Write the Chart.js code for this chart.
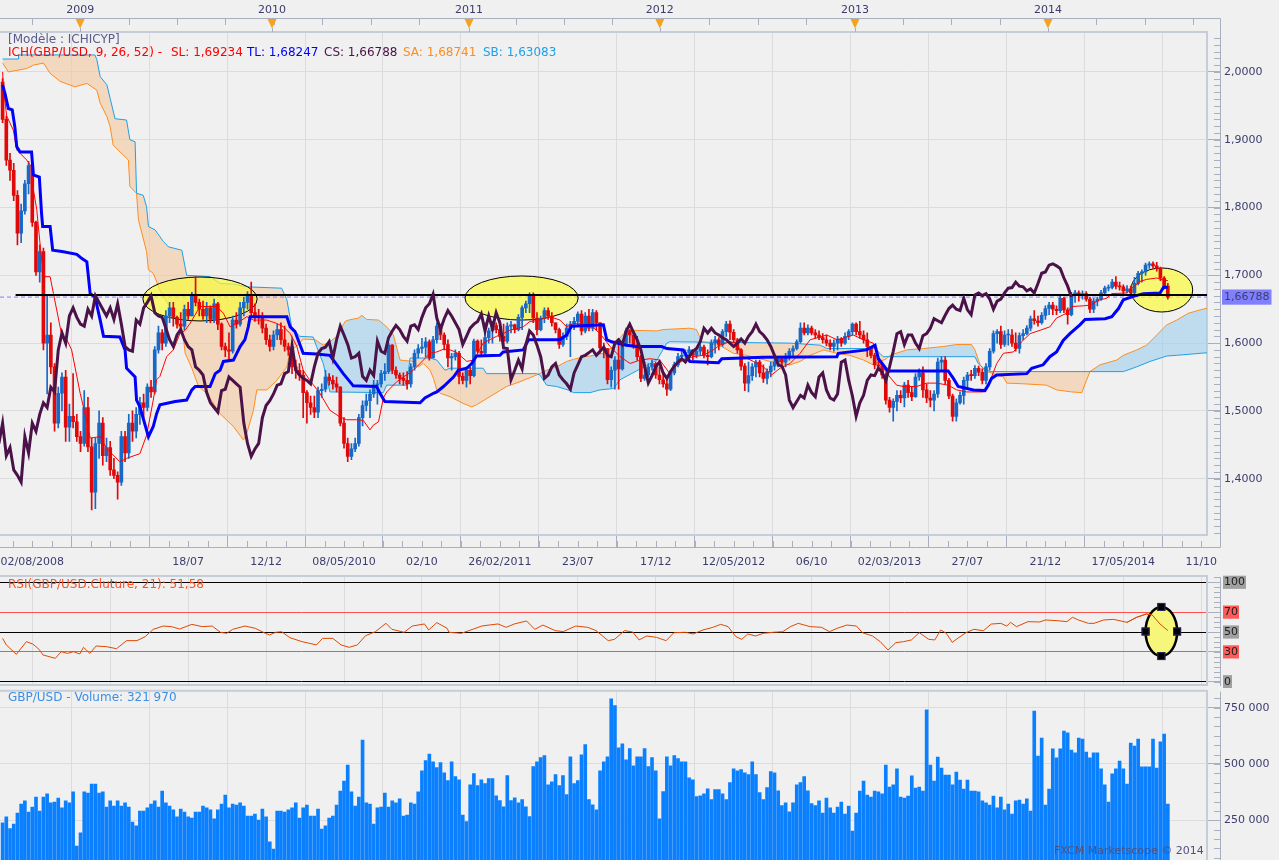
<!DOCTYPE html>
<html>
<head>
<meta charset="utf-8">
<title>GBP/USD - ICHICYP</title>
<script src="https://cdn.jsdelivr.net/npm/chart.js@4.4.1/dist/chart.umd.min.js"></script>
<style>
  html, body { margin: 0; padding: 0; background: #f0f0f0; }
  #wrap { position: relative; width: 1279px; height: 860px; overflow: hidden; background: #f0f0f0;
          font-family: 'DejaVu Sans', sans-serif; font-size: 12px; }
  canvas { position: absolute; left: 0; }
  #main { top: 0; }
  #rsi { top: 572px; }
  #vol { top: 688px; }
  .lbl { position: absolute; white-space: nowrap; line-height: 14px; }
</style>
</head>
<body>
<div id="wrap">
  <canvas id="main" width="1279" height="572" style="width:1279px;height:572px"></canvas>
  <canvas id="rsi" width="1279" height="116" style="width:1279px;height:116px"></canvas>
  <canvas id="vol" width="1279" height="190" style="width:1279px;height:190px"></canvas>

  <div class="lbl" style="left:8px;top:32px;color:#5a5a8c">[Modèle : ICHICYP]</div>
  <div class="lbl" style="left:8px;top:45px;color:#ff0000">ICH(GBP/USD, 9, 26, 52) -</div>
  <div class="lbl" style="left:171px;top:45px;color:#ff0000">SL: 1,69234</div>
  <div class="lbl" style="left:247px;top:45px;color:#0000ff">TL: 1,68247</div>
  <div class="lbl" style="left:324px;top:45px;color:#4a1248">CS: 1,66788</div>
  <div class="lbl" style="left:403px;top:45px;color:#ff8c1e">SA: 1,68741</div>
  <div class="lbl" style="left:483px;top:45px;color:#1ea0e6">SB: 1,63083</div>
  <div class="lbl" style="left:8px;top:577px;color:#ff5020">RSI(GBP/USD.Cluture, 21): 51,58</div>
  <div class="lbl" style="left:8px;top:690px;color:#3d8ee6">GBP/USD - Volume: 321 970</div>
  <div class="lbl" style="left:1054px;top:844px;font-size:11px;color:#50507e">FXCM Marketscope © 2014</div>
</div>

<script>
// weekly bars, index 0 = 02/08/2008
const firstOpen = 1.985;
const closes = [
  1.930, 1.870, 1.855, 1.818, 1.762, 1.795, 1.835, 1.862, 1.778, 1.705,
  1.735, 1.600, 1.612, 1.565, 1.482, 1.526, 1.550, 1.476, 1.492, 1.484,
  1.462, 1.452, 1.505, 1.447, 1.380, 1.452, 1.482, 1.434, 1.446, 1.413,
  1.405, 1.395, 1.462, 1.438, 1.482, 1.470, 1.495, 1.512, 1.505, 1.535,
  1.528, 1.590, 1.615, 1.600, 1.640, 1.652, 1.638, 1.628, 1.625, 1.650,
  1.640, 1.670, 1.660, 1.650, 1.640, 1.652, 1.635, 1.658, 1.628, 1.595,
  1.590, 1.588, 1.634, 1.628, 1.652, 1.660, 1.670, 1.645, 1.640, 1.638,
  1.622, 1.605, 1.595, 1.612, 1.620, 1.605, 1.595, 1.590, 1.565, 1.560,
  1.553, 1.527, 1.512, 1.505, 1.498, 1.530, 1.532, 1.550, 1.545, 1.540,
  1.535, 1.482, 1.452, 1.433, 1.444, 1.452, 1.490, 1.508, 1.515, 1.525,
  1.538, 1.540, 1.555, 1.558, 1.597, 1.560, 1.553, 1.548, 1.545, 1.540,
  1.565, 1.585, 1.592, 1.594, 1.602, 1.578, 1.605, 1.625, 1.612, 1.598,
  1.578, 1.580, 1.585, 1.551, 1.545, 1.560, 1.552, 1.603, 1.588, 1.585,
  1.608, 1.618, 1.626, 1.620, 1.610, 1.603, 1.625, 1.627, 1.620, 1.638,
  1.652, 1.658, 1.672, 1.637, 1.620, 1.636, 1.648, 1.640, 1.630, 1.620,
  1.598, 1.610, 1.622, 1.628, 1.632, 1.643, 1.618, 1.640, 1.622, 1.645,
  1.630, 1.593, 1.592, 1.546, 1.560, 1.575, 1.562, 1.598, 1.618, 1.612,
  1.597, 1.580, 1.548, 1.553, 1.565, 1.570, 1.553, 1.546, 1.540, 1.532,
  1.556, 1.568, 1.580, 1.582, 1.586, 1.590, 1.582, 1.588, 1.594, 1.582,
  1.580, 1.600, 1.605, 1.598, 1.617, 1.628, 1.616, 1.605, 1.590, 1.566,
  1.541, 1.552, 1.565, 1.572, 1.556, 1.548, 1.558, 1.566, 1.572, 1.577,
  1.572, 1.580, 1.588, 1.592, 1.602, 1.622, 1.615, 1.622, 1.615, 1.612,
  1.608, 1.605, 1.600, 1.595, 1.600, 1.606, 1.600, 1.610, 1.617, 1.628,
  1.617, 1.612, 1.605, 1.595, 1.582, 1.568, 1.566, 1.553, 1.516, 1.505,
  1.514, 1.523, 1.519, 1.538, 1.527, 1.521, 1.550, 1.556, 1.531, 1.519,
  1.516, 1.525, 1.572, 1.575, 1.545, 1.522, 1.492, 1.512, 1.523, 1.545,
  1.553, 1.552, 1.563, 1.557, 1.545, 1.565, 1.588, 1.614, 1.617, 1.598,
  1.612, 1.612, 1.600, 1.592, 1.611, 1.614, 1.622, 1.636, 1.633, 1.630,
  1.641, 1.651, 1.656, 1.650, 1.648, 1.666, 1.649, 1.642, 1.671, 1.674,
  1.670, 1.673, 1.665, 1.650, 1.662, 1.665, 1.674, 1.681, 1.682, 1.690,
  1.684, 1.683, 1.677, 1.680, 1.674, 1.688, 1.703, 1.705, 1.715, 1.717,
  1.714, 1.710, 1.696, 1.684, 1.66788
];
const highs = [
  1.990, 1.935, 1.880, 1.865, 1.825, 1.805, 1.840, 1.868, 1.865, 1.780,
  1.745, 1.740, 1.672, 1.630, 1.570, 1.535, 1.556, 1.560, 1.510, 1.555,
  1.495, 1.470, 1.530, 1.520, 1.460, 1.460, 1.500, 1.490, 1.460, 1.455,
  1.430, 1.410, 1.470, 1.470, 1.495, 1.500, 1.505, 1.520, 1.525, 1.540,
  1.545, 1.595, 1.625, 1.620, 1.648, 1.660, 1.660, 1.640, 1.645, 1.656,
  1.660, 1.675, 1.698, 1.665, 1.662, 1.660, 1.655, 1.665, 1.660, 1.630,
  1.600, 1.615, 1.640, 1.645, 1.660, 1.668, 1.676, 1.690, 1.658, 1.650,
  1.645, 1.628, 1.612, 1.618, 1.628, 1.630, 1.625, 1.600, 1.595, 1.575,
  1.570, 1.560, 1.530, 1.522, 1.522, 1.535, 1.540, 1.560, 1.555, 1.552,
  1.550, 1.536, 1.490, 1.460, 1.452, 1.460, 1.495, 1.515, 1.525, 1.531,
  1.545, 1.545, 1.560, 1.570, 1.600, 1.598, 1.565, 1.556, 1.556, 1.558,
  1.570, 1.590, 1.598, 1.607, 1.608, 1.605, 1.610, 1.630, 1.628, 1.615,
  1.605, 1.585, 1.590, 1.588, 1.556, 1.565, 1.565, 1.606, 1.605, 1.605,
  1.630, 1.622, 1.632, 1.630, 1.633, 1.628, 1.630, 1.632, 1.628, 1.642,
  1.655, 1.662, 1.674, 1.674, 1.645, 1.640, 1.652, 1.652, 1.645, 1.630,
  1.622, 1.615, 1.628, 1.632, 1.638, 1.646, 1.648, 1.645, 1.650, 1.650,
  1.648, 1.630, 1.600, 1.592, 1.565, 1.580, 1.606, 1.602, 1.622, 1.620,
  1.617, 1.610, 1.582, 1.572, 1.570, 1.575, 1.572, 1.565, 1.558, 1.545,
  1.560, 1.572, 1.585, 1.588, 1.590, 1.595, 1.590, 1.592, 1.598, 1.597,
  1.590, 1.605, 1.610, 1.608, 1.620, 1.632, 1.633, 1.620, 1.607, 1.592,
  1.570, 1.572, 1.570, 1.575, 1.575, 1.568, 1.562, 1.572, 1.576, 1.580,
  1.580, 1.585, 1.592, 1.596, 1.605, 1.630, 1.630, 1.627, 1.625, 1.620,
  1.618, 1.614, 1.612, 1.605, 1.605, 1.610, 1.608, 1.615, 1.620, 1.630,
  1.630, 1.632, 1.618, 1.615, 1.595, 1.585, 1.580, 1.572, 1.556, 1.520,
  1.518, 1.530, 1.530, 1.542, 1.545, 1.535, 1.555, 1.562, 1.565, 1.540,
  1.530, 1.530, 1.578, 1.580, 1.580, 1.548, 1.525, 1.518, 1.528, 1.550,
  1.557, 1.560, 1.567, 1.566, 1.562, 1.570, 1.592, 1.618, 1.620, 1.625,
  1.618, 1.620, 1.620, 1.615, 1.615, 1.620, 1.626, 1.640, 1.648, 1.640,
  1.645, 1.655, 1.660, 1.660, 1.655, 1.670, 1.668, 1.652, 1.675, 1.678,
  1.677, 1.677, 1.676, 1.668, 1.666, 1.668, 1.678, 1.684, 1.686, 1.694,
  1.698, 1.690, 1.686, 1.685, 1.684, 1.697, 1.706, 1.708, 1.718, 1.720,
  1.720, 1.719, 1.712, 1.698, 1.688
];
const lows = [
  1.925, 1.862, 1.840, 1.810, 1.745, 1.748, 1.790, 1.820, 1.772, 1.700,
  1.690, 1.590, 1.525, 1.555, 1.470, 1.475, 1.500, 1.455, 1.455, 1.475,
  1.455, 1.440, 1.448, 1.440, 1.354, 1.356, 1.430, 1.420, 1.425, 1.405,
  1.400, 1.370, 1.390, 1.425, 1.430, 1.455, 1.460, 1.480, 1.490, 1.500,
  1.520, 1.525, 1.585, 1.590, 1.595, 1.630, 1.625, 1.622, 1.620, 1.620,
  1.635, 1.640, 1.655, 1.640, 1.635, 1.630, 1.630, 1.630, 1.620, 1.590,
  1.580, 1.575, 1.585, 1.622, 1.625, 1.640, 1.650, 1.640, 1.632, 1.628,
  1.615, 1.598, 1.588, 1.590, 1.605, 1.598, 1.588, 1.582, 1.555, 1.548,
  1.545, 1.490, 1.482, 1.495, 1.490, 1.490, 1.520, 1.528, 1.538, 1.532,
  1.528, 1.478, 1.445, 1.425, 1.428, 1.440, 1.448, 1.478, 1.500, 1.490,
  1.520, 1.510, 1.535, 1.545, 1.555, 1.555, 1.548, 1.540, 1.538, 1.532,
  1.535, 1.560, 1.578, 1.585, 1.580, 1.575, 1.578, 1.600, 1.605, 1.590,
  1.565, 1.560, 1.575, 1.540, 1.540, 1.535, 1.540, 1.550, 1.585, 1.580,
  1.580, 1.600, 1.600, 1.615, 1.603, 1.598, 1.600, 1.615, 1.615, 1.618,
  1.620, 1.645, 1.645, 1.630, 1.612, 1.618, 1.630, 1.635, 1.625, 1.615,
  1.592, 1.595, 1.605, 1.580, 1.620, 1.625, 1.612, 1.615, 1.618, 1.618,
  1.620, 1.585, 1.578, 1.540, 1.535, 1.532, 1.532, 1.560, 1.595, 1.600,
  1.592, 1.575, 1.543, 1.545, 1.550, 1.560, 1.548, 1.540, 1.535, 1.523,
  1.530, 1.553, 1.565, 1.575, 1.575, 1.580, 1.575, 1.578, 1.583, 1.578,
  1.568, 1.578, 1.585, 1.590, 1.595, 1.610, 1.605, 1.600, 1.585, 1.560,
  1.530, 1.528, 1.545, 1.550, 1.550, 1.542, 1.540, 1.550, 1.560, 1.565,
  1.565, 1.565, 1.575, 1.580, 1.590, 1.600, 1.612, 1.612, 1.612, 1.607,
  1.605, 1.600, 1.596, 1.590, 1.588, 1.590, 1.595, 1.598, 1.605, 1.612,
  1.612, 1.607, 1.600, 1.580, 1.578, 1.562, 1.560, 1.548, 1.510, 1.498,
  1.485, 1.500, 1.512, 1.506, 1.520, 1.515, 1.520, 1.545, 1.520, 1.512,
  1.506, 1.500, 1.520, 1.560, 1.540, 1.518, 1.485, 1.485, 1.510, 1.510,
  1.535, 1.545, 1.548, 1.552, 1.540, 1.540, 1.560, 1.585, 1.600, 1.592,
  1.595, 1.597, 1.595, 1.588, 1.585, 1.605, 1.612, 1.618, 1.628, 1.625,
  1.628, 1.635, 1.642, 1.642, 1.642, 1.645, 1.645, 1.628, 1.640, 1.660,
  1.662, 1.665, 1.662, 1.645, 1.645, 1.655, 1.663, 1.672, 1.677, 1.680,
  1.680, 1.678, 1.673, 1.674, 1.670, 1.672, 1.686, 1.690, 1.700, 1.710,
  1.710, 1.706, 1.692, 1.680, 1.665
];
// volume, thousands
const volumes = [
  239, 265, 213, 233, 282, 322, 336, 287, 309, 353,
  291, 353, 367, 327, 331, 349, 305, 336, 327, 376,
  136, 194, 376, 371, 411, 411, 371, 376, 309, 336,
  313, 336, 313, 327, 309, 242, 225, 291, 291, 305,
  322, 336, 309, 380, 327, 313, 296, 265, 300, 287,
  265, 260, 287, 287, 313, 305, 296, 256, 296, 322,
  362, 305, 322, 318, 327, 313, 269, 269, 278, 251,
  300, 265, 154, 122, 291, 291, 287, 296, 305, 327,
  260, 305, 318, 269, 269, 300, 211, 225, 260, 269,
  318, 380, 424, 495, 376, 313, 353, 606, 327, 322,
  233, 305, 309, 371, 309, 336, 327, 345, 269, 273,
  327, 322, 376, 470, 515, 544, 510, 484, 506, 461,
  426, 510, 444, 430, 273, 244, 408, 457, 404, 430,
  413, 435, 435, 359, 337, 310, 448, 337, 350, 328,
  342, 310, 266, 488, 510, 528, 537, 408, 421, 453,
  404, 448, 364, 532, 413, 426, 541, 586, 342, 319,
  297, 470, 510, 532, 789, 759, 572, 590, 519, 568,
  492, 532, 532, 568, 488, 528, 470, 257, 377, 532,
  492, 537, 524, 510, 510, 439, 430, 355, 359, 368,
  390, 342, 386, 386, 368, 342, 417, 479, 470, 475,
  461, 453, 510, 453, 373, 342, 395, 466, 461, 381,
  315, 328, 288, 328, 408, 417, 444, 381, 324, 315,
  336, 282, 349, 305, 282, 309, 331, 278, 313, 202,
  282, 380, 424, 362, 353, 380, 376, 367, 495, 398,
  407, 478, 353, 349, 358, 447, 393, 398, 380, 740,
  495, 424, 531, 482, 451, 451, 407, 464, 429, 389,
  429, 380, 380, 376, 336, 327, 318, 358, 305, 353,
  296, 322, 278, 336, 340, 322, 345, 291, 735, 535,
  615, 318, 389, 567, 527, 567, 646, 638, 562, 549,
  615, 611, 553, 527, 549, 549, 478, 407, 331, 456,
  478, 513, 478, 411, 593, 580, 611, 487, 487, 487,
  611, 482, 598, 633, 322
];

// indicator lines read as [week, value]
const tenkan = [
  [0, 2.000], [0.2, 1.978], [1.1, 1.935], [2.9, 1.914], [3.8, 1.885], [4.7, 1.880], [6.5, 1.870], [7.8, 1.860],
  [8.3, 1.826], [9.2, 1.797], [10.5, 1.723], [11.4, 1.698], [12.8, 1.698], [13.7, 1.673], [16, 1.610], [17.3, 1.605],
  [18.6, 1.590], [20.9, 1.526], [22.2, 1.496], [23.6, 1.460], [26.3, 1.462], [28, 1.445], [31.6, 1.425], [33.4, 1.430],
  [37, 1.437], [38.8, 1.464], [40.6, 1.516], [41.5, 1.546], [42.4, 1.551], [44.2, 1.580], [46, 1.590], [47.8, 1.614],
  [49.2, 1.619], [50.5, 1.629], [53.2, 1.654], [57.7, 1.654], [59.5, 1.644], [61.3, 1.624], [63.1, 1.629], [65.8, 1.639],
  [67.6, 1.634], [71.2, 1.634], [73.9, 1.629], [75.7, 1.624], [77.5, 1.614], [79.3, 1.595], [81, 1.560], [82.8, 1.545],
  [85.5, 1.526], [88.2, 1.501], [90.9, 1.491], [92.7, 1.487], [95.4, 1.487], [97.2, 1.486], [99, 1.472], [99.9, 1.479],
  [101.3, 1.484], [102.6, 1.519], [103.5, 1.528], [106.2, 1.543], [108, 1.550], [110.7, 1.560], [111.6, 1.565], [113.4, 1.575],
  [115.2, 1.585], [117, 1.587], [118.8, 1.591], [120.6, 1.590], [122.4, 1.586], [125.1, 1.573], [126.9, 1.575], [127.7, 1.582],
  [129.5, 1.600], [133.1, 1.610], [134.9, 1.614], [136.7, 1.619], [140.3, 1.624], [142.1, 1.632], [143.9, 1.633], [147.5, 1.639],
  [150.2, 1.634], [152, 1.624], [153.8, 1.629], [156.5, 1.628], [158.3, 1.627], [161, 1.614], [163.7, 1.595], [166.4, 1.580],
  [169.1, 1.570], [171.8, 1.575], [174.5, 1.577], [177.1, 1.575], [179.8, 1.555], [181.6, 1.568], [183.4, 1.575], [186.1, 1.580],
  [188.8, 1.582], [191.5, 1.590], [193.3, 1.597], [196, 1.602], [197.8, 1.600], [199.6, 1.580], [202.3, 1.573], [205, 1.565],
  [207.2, 1.553], [209.5, 1.563], [212.2, 1.570], [214.9, 1.585], [217.6, 1.605], [220.3, 1.609], [222.1, 1.612], [224.8, 1.605],
  [226.5, 1.607], [229.2, 1.612], [232, 1.605], [234.6, 1.600], [236.4, 1.570], [239.1, 1.550], [240.9, 1.538], [242.7, 1.536],
  [246.3, 1.536], [249, 1.541], [251.7, 1.541], [254.8, 1.538], [257.1, 1.531], [259.8, 1.528], [264.3, 1.528], [266, 1.543],
  [267.9, 1.570], [269.7, 1.585], [272.4, 1.587], [274.6, 1.602], [276.9, 1.614], [279.6, 1.619], [282.2, 1.624], [284, 1.637],
  [286.7, 1.644], [288.1, 1.654], [291.2, 1.655], [293, 1.656], [295.7, 1.664], [297.5, 1.666], [298.9, 1.673], [302.9, 1.674],
  [304.7, 1.683], [306.5, 1.691], [308.3, 1.694], [311, 1.696], [312.8, 1.693], [314, 1.6923]
];
const kijun = [
  [0, 1.981], [0.65, 1.968], [1.55, 1.946], [2.6, 1.944], [3.3, 1.919], [3.8, 1.890], [4.7, 1.882], [7.8, 1.882],
  [8.3, 1.848], [9.9, 1.845], [10.5, 1.791], [10.8, 1.772], [12.8, 1.772], [13.5, 1.737], [16, 1.735], [20, 1.731],
  [21.3, 1.725], [22.7, 1.720], [23.6, 1.673], [24.9, 1.668], [26.3, 1.634], [27.2, 1.610], [31.6, 1.609], [33, 1.590],
  [33.4, 1.563], [35.7, 1.550], [36.1, 1.516], [37, 1.506], [39.3, 1.462], [40.6, 1.477], [41.5, 1.496], [42.4, 1.509],
  [46.5, 1.514], [49.6, 1.516], [51, 1.531], [51.9, 1.536], [55.9, 1.536], [57.3, 1.555], [58.6, 1.560], [59.5, 1.573],
  [62.2, 1.575], [64, 1.595], [65.3, 1.605], [66.2, 1.624], [66.7, 1.639], [76.6, 1.639], [77.5, 1.624], [78.8, 1.617],
  [81, 1.585], [84.6, 1.584], [88.2, 1.582], [91.8, 1.555], [94.5, 1.537], [100.8, 1.536], [101.7, 1.526], [103, 1.514],
  [112.5, 1.512], [113.8, 1.519], [116.1, 1.526], [117, 1.528], [118.8, 1.536], [121.5, 1.550], [122.8, 1.560], [125.1, 1.563],
  [126.4, 1.570], [127.7, 1.581], [134, 1.582], [134.9, 1.587], [140.3, 1.590], [141.7, 1.605], [150.2, 1.605], [152, 1.612],
  [153.3, 1.625], [161.9, 1.627], [162.8, 1.605], [164.1, 1.602], [168.2, 1.597], [170.9, 1.595], [177.6, 1.595], [179, 1.592],
  [183.4, 1.590], [185.2, 1.573], [192.9, 1.571], [193.8, 1.577], [205, 1.579], [224.8, 1.580], [225.2, 1.585], [232.8, 1.590],
  [235.1, 1.597], [236, 1.577], [237.3, 1.568], [238.5, 1.559], [254.8, 1.559], [256.2, 1.548], [257.5, 1.536], [261.6, 1.531],
  [264.7, 1.530], [265.6, 1.538], [266.5, 1.548], [267.9, 1.553], [276, 1.555], [277.3, 1.563], [280.4, 1.568], [282.2, 1.580],
  [284, 1.587], [285.8, 1.604], [287.6, 1.614], [290.3, 1.627], [291.7, 1.635], [297.1, 1.636], [298.9, 1.639], [300.7, 1.651],
  [302, 1.664], [304.7, 1.669], [307.4, 1.673], [311.9, 1.674], [312.8, 1.682], [314, 1.6825]
];
const senkouA = [
  [0, 2.013], [1.55, 2.000], [6.5, 2.005], [8.3, 2.010], [11, 2.013], [12.8, 1.998], [15.5, 1.986], [19.5, 1.978],
  [22.7, 1.983], [25.4, 1.973], [26.3, 1.954], [28.1, 1.934], [29, 1.919], [29.8, 1.892], [33.9, 1.870], [34.3, 1.831],
  [36.1, 1.821], [36.6, 1.782], [38.8, 1.735], [39.3, 1.708], [40.6, 1.703], [42.4, 1.678], [46, 1.644], [48.7, 1.609],
  [49.2, 1.585], [51, 1.563], [52.8, 1.536], [55, 1.526], [58.6, 1.496], [62.2, 1.477], [64.9, 1.457], [65.8, 1.467],
  [67.6, 1.501], [68.5, 1.531], [71.2, 1.531], [73.9, 1.545], [76.6, 1.565], [77.5, 1.590], [79.2, 1.595], [81, 1.606],
  [84.2, 1.605], [86.4, 1.597], [88.2, 1.602], [90, 1.610], [92.3, 1.632], [93.2, 1.634], [95.9, 1.637], [96.8, 1.641],
  [98.1, 1.635], [101.3, 1.634], [103.5, 1.624], [105.3, 1.612], [107.1, 1.575], [110.7, 1.573], [112, 1.565], [113.4, 1.570],
  [115.2, 1.560], [116.1, 1.548], [117, 1.531], [117.9, 1.526], [120.6, 1.521], [124.1, 1.511], [126.4, 1.506], [127.7, 1.509],
  [131.3, 1.521], [135.8, 1.536], [139.4, 1.543], [143.9, 1.553], [146.6, 1.560], [149.3, 1.565], [152, 1.573], [153.8, 1.576],
  [156.5, 1.580], [158.3, 1.581], [161.9, 1.585], [164.6, 1.595], [167.3, 1.614], [168.6, 1.619], [176.3, 1.618], [178, 1.620],
  [185.2, 1.622], [187, 1.620], [188.4, 1.602], [190.2, 1.600], [193.8, 1.595], [196.9, 1.585], [200.5, 1.582], [204.1, 1.577],
  [206.8, 1.573], [209.5, 1.570], [212.2, 1.568], [214.9, 1.573], [217.6, 1.582], [221.2, 1.590], [224.8, 1.585], [228.3, 1.582],
  [232, 1.575], [234.6, 1.568], [236.4, 1.573], [238.2, 1.577], [239.1, 1.582], [243.6, 1.590], [248.1, 1.592], [253.5, 1.595],
  [257.1, 1.598], [261.1, 1.598], [262, 1.590], [263.4, 1.568], [264.7, 1.559], [269.7, 1.550], [270.6, 1.541], [275.1, 1.540],
  [281.3, 1.538], [284, 1.531], [288.1, 1.528], [290.8, 1.527], [293, 1.558], [295.7, 1.568], [300.2, 1.575], [302, 1.582],
  [305.6, 1.590], [308.3, 1.597], [311, 1.612], [313.7, 1.627], [316.4, 1.634], [319.5, 1.644], [322.7, 1.649], [325, 1.652]
];
const senkouB = [
  [0, 2.019], [4.2, 2.019], [4.3, 2.025], [24.9, 2.025], [25.4, 2.018], [26.3, 1.993], [28.1, 1.981], [30.3, 1.931],
  [33.4, 1.929], [34.3, 1.900], [35.7, 1.897], [36.1, 1.821], [37.9, 1.818], [38.8, 1.801], [39.3, 1.772], [41.1, 1.767],
  [43.3, 1.750], [44.7, 1.742], [48.3, 1.737], [49.6, 1.700], [55.9, 1.698], [58.6, 1.688], [62.2, 1.687], [65.8, 1.683],
  [75.2, 1.681], [76.6, 1.664], [77.9, 1.624], [79.7, 1.612], [80.1, 1.610], [83.7, 1.609], [84.6, 1.595], [86.4, 1.570],
  [88.2, 1.528], [102.6, 1.527], [103.5, 1.538], [108.9, 1.538], [109.8, 1.578], [115.2, 1.578], [117, 1.575], [119.2, 1.560],
  [120.6, 1.563], [129.5, 1.563], [130.4, 1.555], [143.9, 1.555], [144.8, 1.553], [146.6, 1.538], [149.3, 1.536], [152.9, 1.530],
  [153.8, 1.527], [158.3, 1.527], [161, 1.531], [164.6, 1.533], [166.4, 1.546], [176.3, 1.575], [179, 1.600], [179.8, 1.602],
  [212.2, 1.600], [220.3, 1.597], [222.1, 1.592], [235.1, 1.592], [236.4, 1.585], [237.3, 1.580], [262, 1.580], [262.9, 1.570],
  [264.3, 1.563], [266.1, 1.558], [302, 1.558], [305.6, 1.565], [309.2, 1.573], [313.7, 1.581], [316.4, 1.582], [325, 1.586]
];
const rsi = [
  [0, 43.6], [1, 37], [3.7, 27.5], [6.4, 40.3], [8.1, 38], [9.8, 32.6], [10.9, 26.9], [14.2, 23.5], [15.8, 30.2],
  [17.5, 28.5], [19.1, 30.2], [20.8, 27.9], [21.8, 34.6], [23.5, 28.5], [25.2, 35.9], [27.9, 35.3], [30.7, 33.2],
  [33.4, 41.3], [36.2, 41.3], [38.4, 45.3], [40.6, 52.7], [43.3, 56], [45.5, 55.4], [47.7, 53], [51, 57.7],
  [53.8, 55.4], [56.5, 56], [58.7, 49.7], [60.4, 48.7], [62, 52.7], [65.3, 56], [68.1, 53.7], [70.8, 48.7],
  [71.9, 47], [73.6, 49.7], [75.2, 50.3], [77.4, 44.3], [80.7, 40.3], [84.6, 37], [86.2, 43.6], [89, 43.6],
  [91.2, 37], [93.4, 34.6], [95.6, 37], [97.8, 46.3], [100.5, 50.4], [103.3, 58.8], [104.9, 52.7], [108.2, 49.7],
  [110.4, 56], [113.7, 58.1], [114.8, 52], [117, 59.4], [119.8, 53.7], [120.3, 49.7], [123.6, 48.7], [126.9, 53],
  [129.1, 56], [131.3, 57.1], [133.5, 58.1], [135.7, 54.7], [137.9, 58.1], [141.2, 61.1], [143.4, 52.7], [145.6, 57],
  [148.9, 51.4], [151.1, 50.4], [154.4, 56], [157.7, 54.7], [159.9, 51.4], [163.2, 41.3], [164.9, 42.6], [167.6, 51.4],
  [169.8, 50], [171.5, 42], [173.6, 46], [176.2, 44.6], [178.8, 41.3], [180.9, 49.3], [184, 49.7], [186.1, 48],
  [188.7, 52], [191.4, 54.7], [193.5, 57.7], [195.5, 55.4], [197.6, 45.3], [199.2, 42.6], [200.8, 48], [202.9, 46],
  [205, 48.7], [207.6, 49.7], [210.2, 50.3], [212.3, 55.4], [214.4, 58.7], [217.6, 55.4], [220.7, 54.7], [222.8, 50.3],
  [224.9, 53.7], [227.5, 57], [230.1, 56], [231.7, 49.3], [234.4, 46], [236.5, 40.3], [238.6, 31.9], [240.7, 39.3],
  [242.8, 40.3], [244.9, 42], [247, 49.3], [249.6, 42.6], [251.2, 42], [252.8, 52], [254.3, 48.7], [255.9, 39.6],
  [258, 45.3], [259.6, 49.3], [261.7, 52.7], [264.3, 51.3], [266.4, 58], [269, 58.7], [270.6, 56], [271.6, 59.7],
  [273.2, 55.4], [276.3, 60.4], [279.5, 60.1], [281, 62.1], [284.2, 61.4], [286.8, 60.4], [288.3, 64.8], [289.9, 62.1],
  [292.6, 58.7], [294.1, 58.7], [296.7, 62.1], [299.4, 62.7], [303, 59.7], [305.6, 64.8], [308.2, 68.1], [309.8, 67.1],
  [311.9, 58], [313.5, 53], [314, 51.58]
];

// axis ticks
const dateTicks = [8, 29, 50, 71, 92, 113, 134, 155, 176, 197, 218, 239, 260, 281, 302, 323];
const dateLabels = ['02/08/2008', '', '18/07', '12/12', '08/05/2010', '02/10', '26/02/2011', '23/07',
  '17/12', '12/05/2012', '06/10', '02/03/2013', '27/07', '21/12', '17/05/2014', '11/10'];
const yearTicks = [20.9, 72.6, 125.7, 177.1, 229.7, 281.7];
const yearLabels = ['2009', '2010', '2011', '2012', '2013', '2014'];
const priceTicks = [1.4, 1.5, 1.6, 1.7, 1.8, 1.9, 2.0];
const lastClose = 1.66788;
const resistance = 1.671;
const rsiTicks = [0, 30, 50, 70, 100];
const volTicks = [250, 500, 750];

// highlighted zones: [week from, week to, top, bottom]
const priceMarks = [[37.8, 68.6, 1.6975, 1.6327], [124.6, 155.1, 1.699, 1.634], [304, 320.7, 1.7108, 1.6459]];
const rsiMark = [308.0, 316.5, 75.2, 25.8];

const X_MIN = -0.7, X_MAX = 324.55;
const GRID = '#dcdcdc', PANEL = '#c5cdd9', AXIS = '#a8b0c0', TXT = '#3c3c6e';
const BLUE = '#1868c8', RED = '#e00808';
const SPINE = 1220.5;

Chart.defaults.font.family = "'DejaVu Sans', sans-serif";
Chart.defaults.font.size = 11;
Chart.defaults.animation = false;
Chart.defaults.elements.point.radius = 0;
Chart.defaults.elements.line.tension = 0;
Chart.defaults.plugins.legend.display = false;
Chart.defaults.plugins.tooltip.enabled = false;

const opens = closes.map((c, i) => (i === 0 ? firstOpen : closes[i - 1]));
const candleColor = ctx => (closes[ctx.dataIndex] >= opens[ctx.dataIndex] ? BLUE : RED);
const pts = arr => arr.map(([x, y]) => ({x, y}));
const fixWidth = w => s => { s.width = w; s.paddingTop = 0; s.paddingBottom = 0; };
const fixHeight = h => s => { s.height = h; s.paddingLeft = 0; s.paddingRight = 0; };
const fmtPrice = v => v.toFixed(v === lastClose ? 5 : 4).replace('.', ',');

function dateAxis(extra) {
  return Object.assign({
    type: 'linear', min: X_MIN, max: X_MAX, offset: false,
    afterBuildTicks: s => { s.ticks = dateTicks.map(v => ({value: v})); },
    grid: {color: GRID, drawTicks: false},
    ticks: {display: false},
    border: {color: PANEL, width: 2}
  }, extra);
}

function minorTicks(ctx, scale, from, to, step, top, bottom) {
  ctx.beginPath();
  ctx.moveTo(SPINE, top);
  ctx.lineTo(SPINE, bottom);
  for (let v = from; v <= to + 1e-9; v += step) {
    const py = Math.round(scale.getPixelForValue(v)) + 0.5;
    ctx.moveTo(1214, py);
    ctx.lineTo(SPINE, py);
  }
  ctx.stroke();
}

const mainDecor = {
  id: 'mainDecor',
  beforeDatasetDraw(chart, args) {
    if (args.index !== 2) return;
    const {ctx, scales: {x, y}} = chart;
    ctx.save();
    priceMarks.forEach(([i0, i1, hi, lo]) => {
      const x0 = x.getPixelForValue(i0), x1 = x.getPixelForValue(i1);
      const y0 = y.getPixelForValue(hi), y1 = y.getPixelForValue(lo);
      ctx.beginPath();
      ctx.ellipse((x0 + x1) / 2, (y0 + y1) / 2, (x1 - x0) / 2, (y1 - y0) / 2, 0, 0, Math.PI * 2);
      ctx.fillStyle = 'rgba(250,250,60,0.7)';
      ctx.fill();
      ctx.strokeStyle = '#000';
      ctx.lineWidth = 1;
      ctx.stroke();
    });
    ctx.restore();
  },
  afterDraw(chart) {
    const {ctx, scales: {x, y}} = chart;
    ctx.save();
    ctx.strokeStyle = AXIS;
    ctx.lineWidth = 1;
    ctx.beginPath();
    ctx.moveTo(0, 18.5); ctx.lineTo(SPINE, 18.5);
    ctx.moveTo(0, 547.5); ctx.lineTo(SPINE, 547.5);
    // quarter marks on the year band
    for (let q = yearTicks[0] - 13.04; q < X_MAX; q += 13.04) {
      const px = Math.round(x.getPixelForValue(q)) + 0.5;
      ctx.moveTo(px, 18.5); ctx.lineTo(px, 25);
    }
    // sub-divisions on the date band
    for (let d = dateTicks[0] - 21; d < X_MAX; d += 5.25) {
      const px = Math.round(x.getPixelForValue(d)) + 0.5;
      ctx.moveTo(px, 541); ctx.lineTo(px, 547.5);
    }
    ctx.stroke();
    minorTicks(ctx, y, 1.32, 2.05, 0.01, 18.5, 547.5);
    // year markers
    yearTicks.forEach(t => {
      const px = x.getPixelForValue(t);
      ctx.beginPath();
      ctx.moveTo(Math.round(px) + 0.5, 28); ctx.lineTo(Math.round(px) + 0.5, 32);
      ctx.stroke();
      ctx.beginPath();
      ctx.moveTo(px - 4.5, 19); ctx.lineTo(px + 4.5, 19); ctx.lineTo(px, 28.5);
      ctx.closePath();
      ctx.fillStyle = '#f7a21b';
      ctx.fill();
    });
    ctx.restore();
  }
};

new Chart(document.getElementById('main'), {
  type: 'line',
  data: {
    datasets: [
      { label: 'SA', data: pts(senkouA), borderColor: '#ff8c1e', borderWidth: 1, order: 10,
        fill: {target: 1, above: 'rgba(157,207,237,0.6)', below: 'rgba(245,200,160,0.6)'} },
      { label: 'SB', data: pts(senkouB), borderColor: '#1ea0e6', borderWidth: 1, order: 9 },
      { type: 'bar', label: 'wick', data: closes.map((c, i) => ({x: i, y: [lows[i], highs[i]]})),
        backgroundColor: candleColor, barThickness: 1, grouped: false, order: 7 },
      { type: 'bar', label: 'body', data: closes.map((c, i) => ({x: i, y: [opens[i], c]})),
        backgroundColor: candleColor, barThickness: 3, minBarLength: 1, grouped: false, order: 6 },
      { label: 'price', data: [{x: X_MIN, y: lastClose}, {x: X_MAX, y: lastClose}],
        borderColor: '#8080ff', borderWidth: 1, borderDash: [4, 3], order: 8 },
      { label: 'SL', data: pts(tenkan), borderColor: '#ff0000', borderWidth: 1, order: 5 },
      { label: 'TL', data: pts(kijun), borderColor: '#0000ff', borderWidth: 3, order: 4 },
      { label: 'line', data: [{x: 3.5, y: resistance}, {x: X_MAX, y: resistance}],
        borderColor: '#000000', borderWidth: 2, order: 3 },
      { label: 'CS', data: closes.map((c, i) => ({x: i - 26, y: c})), borderColor: '#4a1248', borderWidth: 3, order: 2 }
    ]
  },
  options: {
    responsive: false,
    events: [],
    layout: {padding: 0},
    scales: {
      x: dateAxis({
        position: 'bottom',
        afterFit: fixHeight(37),
        grid: {color: GRID, tickLength: 12, tickColor: AXIS},
        ticks: {display: true, autoSkip: false, maxRotation: 0, minRotation: 0, padding: 9, color: TXT,
                callback: (v, i) => dateLabels[i]}
      }),
      xTop: {
        type: 'linear', position: 'top', axis: 'x', min: X_MIN, max: X_MAX, offset: false,
        afterBuildTicks: s => { s.ticks = yearTicks.map(v => ({value: v})); },
        afterFit: fixHeight(31.7),
        grid: {drawOnChartArea: false, drawTicks: false},
        border: {color: PANEL, width: 2},
        ticks: {autoSkip: false, maxRotation: 0, padding: 15, color: TXT, callback: (v, i) => yearLabels[i]}
      },
      y: {
        type: 'linear', position: 'right', min: 1.3170, max: 2.0593,
        afterBuildTicks: s => { s.ticks = priceTicks.concat([lastClose]).map(v => ({value: v})); },
        afterFit: fixWidth(72),
        grid: {
          color: c => (c.tick && c.tick.value === lastClose ? 'rgba(0,0,0,0)' : GRID),
          tickColor: c => (c.tick && c.tick.value === lastClose ? 'rgba(0,0,0,0)' : AXIS),
          tickLength: 13
        },
        border: {color: PANEL, width: 2},
        ticks: {
          autoSkip: false, padding: 4, color: TXT, callback: fmtPrice,
          showLabelBackdrop: c => !!(c.tick && c.tick.value === lastClose),
          backdropColor: '#8080ff', backdropPadding: {left: 2, right: 2, top: 1, bottom: 1}
        }
      }
    }
  },
  plugins: [mainDecor]
});

const rsiDecor = {
  id: 'rsiDecor',
  afterDraw(chart) {
    const {ctx, chartArea: a, scales: {x, y}} = chart;
    ctx.save();
    ctx.strokeStyle = PANEL;
    ctx.lineWidth = 2;
    ctx.beginPath();
    ctx.moveTo(0, a.top); ctx.lineTo(a.right, a.top);
    ctx.stroke();
    ctx.strokeStyle = AXIS;
    ctx.lineWidth = 1;
    minorTicks(ctx, y, 0, 105, 5, a.top + 1, a.bottom + 1);
    // highlighted zone with its handles
    const [i0, i1, hi, lo] = rsiMark;
    const x0 = x.getPixelForValue(i0), x1 = x.getPixelForValue(i1);
    const y0 = y.getPixelForValue(hi), y1 = y.getPixelForValue(lo);
    const cx = (x0 + x1) / 2, cy = (y0 + y1) / 2;
    ctx.beginPath();
    ctx.ellipse(cx, cy, (x1 - x0) / 2, (y1 - y0) / 2, 0, 0, Math.PI * 2);
    ctx.fillStyle = '#f6f67a';
    ctx.fill();
    ctx.strokeStyle = '#000';
    ctx.lineWidth = 2.5;
    ctx.stroke();
    // the rsi stays visible above the fill
    ctx.beginPath();
    rsi.filter(p => p[0] >= 300).forEach(([i, v], k) => {
      const px = x.getPixelForValue(i), py = y.getPixelForValue(v);
      if (k === 0) ctx.moveTo(px, py); else ctx.lineTo(px, py);
    });
    ctx.strokeStyle = '#e04800';
    ctx.lineWidth = 1;
    ctx.stroke();
    ctx.fillStyle = '#000';
    ctx.strokeStyle = '#2a2a5a';
    [[cx, y0], [cx, y1], [x0, cy], [x1, cy]].forEach(([hx, hy]) => {
      ctx.fillRect(hx - 4, hy - 4, 8, 8);
      ctx.strokeRect(hx - 3.5, hy - 3.5, 7, 7);
    });
    ctx.restore();
  }
};

new Chart(document.getElementById('rsi'), {
  type: 'line',
  data: {
    datasets: [
      { label: 'RSI', data: pts(rsi), borderColor: '#e04800', borderWidth: 1 }
    ]
  },
  options: {
    responsive: false,
    events: [],
    layout: {padding: {top: 4, left: 0, right: 0, bottom: 0}},
    scales: {
      x: dateAxis({afterFit: fixHeight(3)}),
      y: {
        type: 'linear', position: 'right', min: -3.32, max: 106.34,
        afterBuildTicks: s => { s.ticks = rsiTicks.map(v => ({value: v})); },
        afterFit: fixWidth(72),
        grid: {
          color: c => (c.tick && (c.tick.value === 30 || c.tick.value === 70) ? '#ff5050' : '#000000'),
          tickColor: AXIS, tickLength: 13
        },
        border: {color: PANEL, width: 2},
        ticks: {
          autoSkip: false, padding: 4, color: '#202020',
          showLabelBackdrop: true,
          backdropColor: c => (c.tick && (c.tick.value === 30 || c.tick.value === 70) ? '#ff5a5a' : '#a0a0a0'),
          backdropPadding: {left: 1, right: 1, top: 0, bottom: 0}
        }
      }
    }
  },
  plugins: [rsiDecor]
});

const volDecor = {
  id: 'volDecor',
  afterDraw(chart) {
    const {ctx, chartArea: a, scales: {y}} = chart;
    ctx.save();
    ctx.strokeStyle = PANEL;
    ctx.lineWidth = 2;
    ctx.beginPath();
    ctx.moveTo(0, a.top); ctx.lineTo(a.right, a.top);
    ctx.stroke();
    ctx.strokeStyle = AXIS;
    ctx.lineWidth = 1;
    minorTicks(ctx, y, 0, 825, 250 / 6, a.top + 1, a.bottom);
    ctx.restore();
  }
};

new Chart(document.getElementById('vol'), {
  type: 'bar',
  data: {
    datasets: [
      { label: 'Volume', data: volumes.map((v, i) => ({x: i, y: v})), backgroundColor: '#0a80ff',
        barThickness: 3, grouped: false }
    ]
  },
  options: {
    responsive: false,
    events: [],
    layout: {padding: {top: 2.7, left: 0, right: 0, bottom: 0}},
    scales: {
      x: dateAxis({afterFit: fixHeight(1.4)}),
      y: {
        type: 'linear', position: 'right', min: 0, max: 825.4,
        afterBuildTicks: s => { s.ticks = volTicks.map(v => ({value: v})); },
        afterFit: fixWidth(72),
        grid: {color: GRID, tickColor: AXIS, tickLength: 13},
        border: {color: PANEL, width: 2},
        ticks: {autoSkip: false, padding: 4, color: TXT, callback: v => v + ' 000'}
      }
    }
  },
  plugins: [volDecor]
});
</script>
</body>
</html>
